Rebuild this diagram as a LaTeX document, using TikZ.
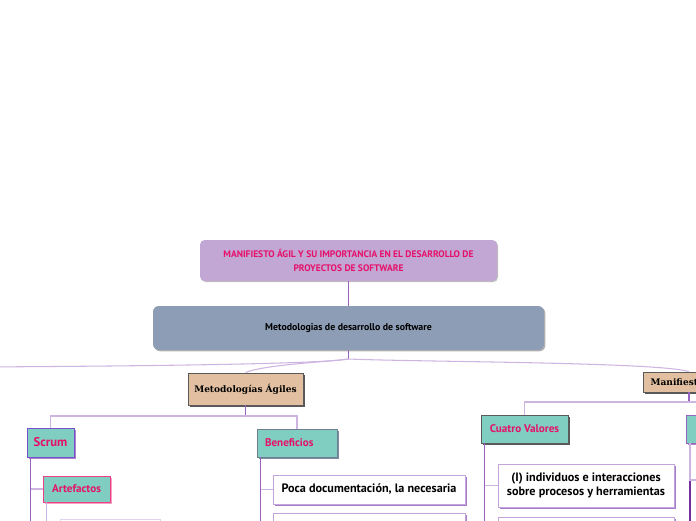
\documentclass[tikz,border=0pt]{standalone}
\usepackage{fontspec}
\setmainfont{PT Sans}
\newfontfamily\slabfont{DejaVu Serif}
\usetikzlibrary{shadows, calc}
\definecolor{titlepurple}{RGB}{194,166,211}
\definecolor{rosetext}{RGB}{230,16,106}
\definecolor{slateblue}{RGB}{140,157,181}
\definecolor{tanbox}{RGB}{225,191,160}
\definecolor{tealbox}{RGB}{127,206,193}
\definecolor{stemline}{RGB}{150,100,190}
\definecolor{darkstem}{RGB}{112,48,160}
\definecolor{lavline}{RGB}{205,180,225}
\definecolor{lavborder}{RGB}{195,165,220}
\definecolor{lavshadow}{RGB}{165,125,200}
\definecolor{bordergray}{RGB}{90,90,90}
\newcommand{\px}{0.03cm}
\tikzset{
  base/.style={align=center, inner sep=0pt, line width=0.6pt},
  maintitle/.style={base, fill=titlepurple, rounded corners=4pt, text=rosetext,
                    font=\bfseries\fontsize{8.1}{11.5}\selectfont,
                    drop shadow={opacity=0.25, fill=black, shadow xshift=0.03cm, shadow yshift=-0.03cm}},
  central/.style={base, fill=slateblue, rounded corners=5pt,
                  font=\bfseries\fontsize{8.4}{10}\selectfont,
                  drop shadow={opacity=0.3, fill=black, shadow xshift=0.04cm, shadow yshift=-0.04cm}},
  mainbranch/.style={base, draw=bordergray, fill=tanbox,
                     font=\slabfont\bfseries\fontsize{7.7}{9}\selectfont,
                     drop shadow={opacity=1, fill=black!65, shadow xshift=0.06cm, shadow yshift=-0.06cm}},
  topic/.style={base, fill=tealbox, text=rosetext, font=\bfseries\fontsize{9.5}{10}\selectfont},
  leaf/.style={base, draw=lavborder, fill=white, font=\bfseries\fontsize{10.4}{12.5}\selectfont,
               drop shadow={opacity=1, fill=lavshadow, shadow xshift=0.06cm, shadow yshift=-0.06cm}},
  lnk/.style={draw=lavline, line width=0.9pt},
  stem/.style={draw=stemline, line width=1pt},
}
\begin{document}
\begin{tikzpicture}[x=\px, y=\px]
  \useasboundingbox (0,0) rectangle (696,-520);
  \fill[white] (0,0) rectangle (696,-520);
  \clip (0,0) rectangle (696,-520);

  \node[maintitle, minimum width=297*\px, minimum height=41*\px] (title) at (348.5,-260.5)
    {MANIFIESTO ÁGIL Y SU IMPORTANCIA EN EL DESARROLLO DE\\PROYECTOS DE SOFTWARE};
  \node[central, minimum width=391*\px, minimum height=44*\px] (metodos) at (348.5,-328)
    {Metodologias de desarrollo de software};
  \coordinate (hub) at (348.5,-359);
  \coordinate (offleft) at (-20,-367);

  \node[mainbranch, minimum width=115*\px, minimum height=32*\px] (agiles) at (245.5,-389)
    {Metodologías Ágiles};
  \node[mainbranch, minimum width=92*\px, minimum height=20*\px] (manifiesto) at (689,-382)
    {Manifiesto Ágil};

  % Metodologias agiles
  \node[topic, draw=stemline!80!blue, minimum width=47*\px, minimum height=29*\px,
        font=\bfseries\fontsize{10.8}{11}\selectfont,
        drop shadow={opacity=1, fill=stemline!80, shadow xshift=0.06cm, shadow yshift=-0.06cm}]
        (scrum) at (50.5,-442.5) {Scrum};
  \node[topic, draw=rosetext!80, minimum width=67*\px, minimum height=26*\px,
        drop shadow={opacity=1, fill=rosetext!40, shadow xshift=0.06cm, shadow yshift=-0.06cm}]
        (artefactos) at (76.5,-489) {Artefactos};
  \node[topic, draw=slateblue!80!black, minimum height=28*\px, text width=1.92cm,
        inner xsep=0.24cm, align=left,
        drop shadow={opacity=1, fill=slateblue!90!black, shadow xshift=0.06cm, shadow yshift=-0.06cm}]
        (beneficios) at (297,-443) {Beneficios};
  \node[leaf, minimum width=192*\px, minimum height=29*\px] (poca) at (369,-489.5)
    {Poca documentación, la necesaria};
  \node[leaf, minimum width=192*\px, minimum height=29*\px, anchor=north] (benefdos) at (369,-513) {};
  \node[leaf, draw=lavline!60, minimum width=100*\px, minimum height=29*\px, anchor=north west]
    (artefuno) at (60,-519) {};

  % Manifiesto agil
  \node[topic, draw=bordergray, minimum width=87*\px, minimum height=28*\px,
        drop shadow={opacity=1, fill=black!65, shadow xshift=0.06cm, shadow yshift=-0.06cm}]
        (valores) at (524.5,-429) {Cuatro Valores};
  \node[topic, draw=stemline, minimum width=95*\px, minimum height=28*\px, anchor=west,
        drop shadow={opacity=1, fill=stemline!80, shadow xshift=0.06cm, shadow yshift=-0.06cm}]
        (principios) at (686,-429) {Doce Principios};
  \node[leaf, minimum width=176*\px, minimum height=43*\px] (individuos) at (586,-485.5)
    {(I) individuos e interacciones\\sobre procesos y herramientas};
  \node[leaf, minimum width=176*\px, minimum height=43*\px, anchor=north] (valdos) at (586,-517) {};
  \coordinate (princhild) at (720,-480);

  % connectors
  \draw[stem] (title.south) -- (metodos.north);
  \draw[stem] (metodos.south) -- (hub);
  \draw[lnk] (hub) .. controls (320,-364) and (150,-366) .. (offleft);
  \draw[lnk] (hub) .. controls (325,-362) and (262,-365) .. (agiles.north);
  \draw[lnk] (hub) .. controls (420,-362) and (660,-362) .. (manifiesto.north);

  \coordinate (agfork) at (245.5,-416);
  \draw[stem] (agiles.south) -- (agfork);
  \draw[lnk] (agfork) -| (scrum.north);
  \draw[lnk] (agfork) -| (beneficios.north);

  \draw[stem] ([xshift=4*\px]scrum.south west) -- ++(0,-80);
  \draw[lnk] (artefactos.west) -- ++(-12,0);
  \draw[stem] ([xshift=4*\px]artefactos.south west) -- ++(0,-40);
  \draw[lnk] (artefuno.west) -| ([xshift=4*\px]artefactos.south west);

  \draw[stem] ([xshift=4*\px]beneficios.south west) -- ++(0,-80);
  \draw[lnk] (poca.west) -- ++(-12,0);
  \draw[lnk] (benefdos.west) -- ++(-12,0);

  \coordinate (mfork) at (689,-402);
  \draw[stem] (manifiesto.south) -- (mfork);
  \draw[lnk] (mfork) -| (valores.north);
  \draw[lnk] (mfork) -| (principios.north);

  \draw[stem] ([xshift=4*\px]valores.south west) -- ++(0,-90);
  \draw[lnk] (individuos.west) -- ++(-13,0);
  \draw[lnk] (valdos.west) -- ++(-13,0);

  \draw[stem, draw=darkstem] ([xshift=4*\px]principios.south west) -- ++(0,-90);
  \draw[lnk] (princhild) -| ([xshift=4*\px]principios.south west);
\end{tikzpicture}
\end{document}
